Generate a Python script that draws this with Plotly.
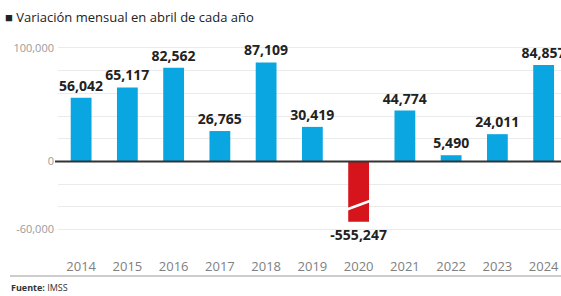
import plotly.graph_objects as go

years = ["2014", "2015", "2016", "2017", "2018", "2019", "2020", "2021", "2022", "2023", "2024"]
values = [56042, 65117, 82562, 26765, 87109, 30419, -555247, 44774, 5490, 24011, 84857]
y_tick_vals = [-60000, -40000, -20000, 0, 20000, 40000, 60000, 80000, 100000]
y_tick_text = ["-60,000", "", "", "0", "", "", "", "", "100,000"]
title_text = "■ Variación mensual en abril de cada año"
source_text = "<b>Fuente:</b> IMSS"

BREAK_CAP = -53000  # axis-break display level for the off-scale bar
BLUE = "#0AA6E2"
RED = "#D6141B"
FONT = "Open Sans"

drawn = [max(v, BREAK_CAP) for v in values]
colors = [RED if v < 0 else BLUE for v in values]
labels = [f"{v:,}" for v in values]

W, H = 561, 296
L, R, T, B = 58, 0, 41, 55
pw = W - L - R
ph = H - T - B

fig = go.Figure(go.Bar(
    x=years, y=drawn, marker_color=colors, marker_line_width=0, width=0.45,
    text=labels, textposition="outside", cliponaxis=False, constraintext="none",
    textfont=dict(family=FONT, size=14, color="#222222", weight="bold"),
    hoverinfo="skip",
))

shapes = []
# zero line
shapes.append(dict(type="line", xref="paper", yref="y", x0=-3 / pw, x1=1, y0=0, y1=0,
                   line=dict(color="#333333", width=2), layer="above"))
# break mark on the off-scale bar
bi = next(i for i, v in enumerate(values) if v < BREAK_CAP)
shapes.append(dict(type="line", xref="x", yref="y", x0=bi - 0.3, x1=bi + 0.3,
                   y0=BREAK_CAP * 0.81, y1=BREAK_CAP * 0.64,
                   line=dict(color="white", width=2.5), layer="above"))
# bottom rule
shapes.append(dict(type="line", xref="paper", yref="paper", x0=(10 - L) / pw, x1=1,
                   y0=-(276 - (T + ph)) / ph, y1=-(276 - (T + ph)) / ph,
                   line=dict(color="#9a9a9a", width=1)))

annotations = [
    dict(text=title_text, xref="paper", yref="paper", x=(3 - L) / pw, y=1 + (T - 17) / ph,
         xanchor="left", yanchor="middle", showarrow=False,
         font=dict(family=FONT, size=13, color="#222222")),
    dict(text=source_text, xref="paper", yref="paper", x=(9 - L) / pw, y=-(287 - (T + ph)) / ph,
         xanchor="left", yanchor="middle", showarrow=False,
         font=dict(family=FONT, size=9, color="#333333")),
]

fig.update_layout(
    width=W, height=H, margin=dict(l=L, r=R, t=T, b=B, autoexpand=False),
    paper_bgcolor="white", plot_bgcolor="white",
    showlegend=False, shapes=shapes, annotations=annotations,
    font=dict(family=FONT),
)
fig.update_xaxes(range=[-0.5, (pw) / 46.25 - 0.5], showgrid=False, showline=False, ticks="",
                 tickfont=dict(family=FONT, size=13, color="#808080"), ticklabelstandoff=16,
                 zeroline=False, automargin=False)
fig.update_yaxes(range=[-70000, 106000], tickvals=y_tick_vals, ticktext=y_tick_text,
                 showgrid=True, gridcolor="#ebebeb", gridwidth=1, zeroline=False,
                 showline=False, ticks="", tickfont=dict(family=FONT, size=11, color="#9a9a9a"),
                 ticklabelstandoff=3, automargin=False)

fig.write_html("out.html", config={"displayModeBar": False},
               post_script="document.body.style.margin='0';document.body.style.overflow='hidden';")
